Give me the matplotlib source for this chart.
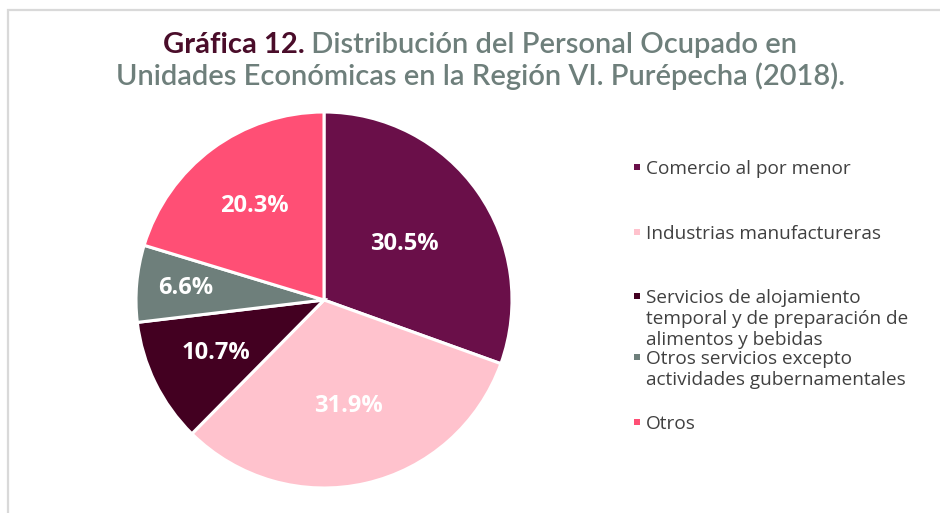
import matplotlib
matplotlib.use("Agg")
import matplotlib.pyplot as plt
import numpy as np

categorias = [
    "Comercio al por menor",
    "Industrias manufactureras",
    "Servicios de alojamiento\ntemporal y de preparación de\nalimentos y bebidas",
    "Otros servicios excepto\nactividades gubernamentales",
    "Otros",
]
porcentajes = [30.5, 31.9, 10.7, 6.6, 20.3]
colores = ["#6A0F49", "#FFC2CD", "#430021", "#6E7F7B", "#FF4F75"]
# distancia de cada etiqueta al centro (fraccion del radio)
dist_etiquetas = [0.52, 0.58, 0.64, 0.74, 0.62]

W, H = 940, 513
fig = plt.figure(figsize=(W / 100, H / 100), dpi=100)

# marco gris
marco = fig.add_axes([0, 0, 1, 1])
marco.set_xlim(0, W)
marco.set_ylim(H, 0)
marco.axis("off")
marco.plot([8, 8, W], [H, 10, 10], color="#D9D9D9", lw=1.6, solid_joinstyle="miter")

# pie
cx, cy, r = 324, 300, 188
ax = fig.add_axes([(cx - r) / W, (H - cy - r) / H, 2 * r / W, 2 * r / H])
wedges, _ = ax.pie(porcentajes, colors=colores, startangle=90, counterclock=False,
                   radius=1, wedgeprops=dict(edgecolor="white", linewidth=2.2))
ax.set_xlim(-1, 1)
ax.set_ylim(-1, 1)
ax.axis("off")

for w, p, d in zip(wedges, porcentajes, dist_etiquetas):
    ang = np.deg2rad((w.theta1 + w.theta2) / 2)
    ax.text(d * np.cos(ang), d * np.sin(ang), f"{p:.1f}%", ha="center", va="center",
            color="white", fontsize=17, fontweight="bold", family="Open Sans")

# leyenda (una linea de texto cada 21 px)
y_leyenda = [167, 232, 296, 357, 422]
for cat, col, y in zip(categorias, colores, y_leyenda):
    marco.scatter([637], [y], marker="s", s=18, color=col, linewidths=0)
    for i, linea in enumerate(cat.split("\n")):
        marco.text(646, y + 2 + 21 * i, linea, ha="left", va="center", fontsize=13.7,
                   color="#404040", family="Open Sans")

# titulo
fig.canvas.draw()
rend = fig.canvas.get_renderer()
t1a = marco.text(0, 45, "Gráfica 12.", fontsize=21, fontweight="bold", color="#4A0D2A",
                 family="Lato", va="center")
t1b = marco.text(0, 45, " Distribución del Personal Ocupado en", fontsize=21,
                 fontweight="semibold", color="#6E7F7B", family="Lato", va="center")
t2 = marco.text(480, 76, "Unidades Económicas en la Región VI. Purépecha (2018).",
                fontsize=21, fontweight="semibold", color="#6E7F7B", family="Lato",
                va="center", ha="center")
wa = t1a.get_window_extent(rend).width
wb = t1b.get_window_extent(rend).width
x0 = 480 - (wa + wb) / 2
t1a.set_x(x0)
t1b.set_x(x0 + wa)

fig.savefig("out.png", dpi=100)
